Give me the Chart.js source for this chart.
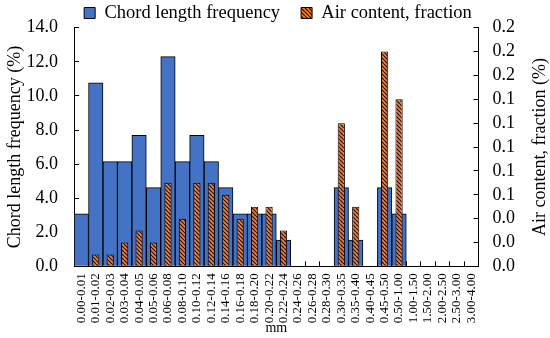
<!DOCTYPE html>
<html>
<head>
<meta charset="utf-8">
<script src="https://cdn.jsdelivr.net/npm/chart.js@4.4.1/dist/chart.umd.min.js"></script>
<style>
    html, body { margin: 0; padding: 0; background: #fff; }
    #wrap { width: 550px; height: 338px; position: relative; }
</style>
</head>
<body>
<div id="wrap"><canvas id="chart"></canvas></div>
<script>
// Chord length bins (mm)
const categories = [
    '0.00-0.01', '0.01-0.02', '0.02-0.03', '0.03-0.04', '0.04-0.05', '0.05-0.06',
    '0.06-0.08', '0.08-0.10', '0.10-0.12', '0.12-0.14', '0.14-0.16', '0.16-0.18',
    '0.18-0.20', '0.20-0.22', '0.22-0.24', '0.24-0.26', '0.26-0.28', '0.28-0.30',
    '0.30-0.35', '0.35-0.40', '0.40-0.45', '0.45-0.50', '0.50-1.00', '1.00-1.50',
    '1.50-2.00', '2.00-2.50', '2.50-3.00', '3.00-4.00'
];

// Chord length frequency (%) - left axis
const chordFreq = [
    3.08, 10.77, 6.15, 6.15, 7.69, 4.62, 12.31, 6.15, 7.69, 6.15, 4.62, 3.08,
    3.08, 3.08, 1.54, 0, 0, 0, 4.62, 1.54, 0, 4.62, 3.08, 0, 0, 0, 0, 0
];

// Air content, fraction - right axis
const airContent = [
    0, 0.01, 0.01, 0.02, 0.03, 0.02, 0.07, 0.04, 0.07, 0.07, 0.06, 0.04,
    0.05, 0.05, 0.03, 0, 0, 0, 0.12, 0.05, 0, 0.18, 0.14, 0, 0, 0, 0, 0
];

// Tick labels as printed on the axes
const leftTickLabels = ['0.0', '2.0', '4.0', '6.0', '8.0', '10.0', '12.0', '14.0'];
const rightTickLabels = ['0.0', '0.0', '0.0', '0.1', '0.1', '0.1', '0.1', '0.1', '0.2', '0.2', '0.2'];

const FONT = '"Liberation Serif", "Times New Roman", serif';

// Orange bars with dark diagonal hatch
function makeHatch() {
    const size = 4;
    const c = document.createElement('canvas');
    c.width = size;
    c.height = size;
    const g = c.getContext('2d');
    g.fillStyle = '#ED7D31';
    g.fillRect(0, 0, size, size);
    g.strokeStyle = '#2b1203';
    g.lineWidth = 1.2;
    g.beginPath();
    for (let k = -size; k <= size; k += size) {
        g.moveTo(k, 0);
        g.lineTo(k + size, size);
    }
    g.stroke();
    return g.createPattern(c, 'repeat');
}

// Legend: keep wide gap between items but a short box,
// and draw it a bit higher/right without clipping
const legendFit = {
    id: 'legendFit',
    beforeInit(chart) {
        const legend = chart.legend;
        const fit = legend.fit;
        const draw = legend.draw;
        legend.fit = function () {
            fit.call(this);
            this.height = 25;
        };
        legend.draw = function () {
            if (!this.options.display) return;
            const ctx = this.ctx;
            ctx.save();
            ctx.translate(9, -20);
            if (this._draw) this._draw();
            else draw.call(this);
            ctx.restore();
        };
    }
};

// Right axis title reads bottom-to-top like the left one
const rightTitle = {
    id: 'rightTitle',
    afterDraw(chart) {
        const area = chart.chartArea;
        const ctx = chart.ctx;
        ctx.save();
        ctx.font = '18px ' + FONT;
        ctx.fillStyle = '#000';
        ctx.textAlign = 'center';
        ctx.textBaseline = 'middle';
        ctx.translate(chart.width - 10, (area.top + area.bottom) / 2);
        ctx.rotate(-Math.PI / 2);
        ctx.fillText('Air content, fraction (%)', 0, 0);
        ctx.restore();
    }
};

const axisGrid = {
    display: true,
    drawOnChartArea: false,
    drawTicks: true,
    tickLength: -5,
    color: '#000',
    lineWidth: 1
};

new Chart(document.getElementById('chart'), {
    type: 'bar',
    data: {
        labels: categories,
        datasets: [{
            label: 'Chord length frequency',
            data: chordFreq,
            yAxisID: 'y',
            backgroundColor: '#4472C4',
            borderColor: '#000',
            borderWidth: 1,
            barPercentage: 1,
            categoryPercentage: 1,
            grouped: false,
            order: 2
        }, {
            label: 'Air content, fraction',
            data: airContent,
            yAxisID: 'y1',
            backgroundColor: makeHatch(),
            borderColor: '#000',
            borderWidth: 1,
            barPercentage: 0.5,
            categoryPercentage: 1,
            grouped: false,
            order: 1
        }]
    },
    options: {
        responsive: true,
        maintainAspectRatio: false,
        animation: false,
        layout: { padding: { top: 0, right: 16, bottom: 1, left: 4 } },
        scales: {
            x: {
                grid: axisGrid,
                border: { display: true, color: '#000', width: 1 },
                ticks: {
                    color: '#000',
                    font: { family: FONT, size: 13 },
                    minRotation: 90,
                    maxRotation: 90,
                    autoSkip: false,
                    padding: 12
                },
                title: {
                    display: true,
                    text: 'mm',
                    color: '#000',
                    font: { family: FONT, size: 14 },
                    padding: { top: -15, bottom: 0 }
                }
            },
            y: {
                position: 'left',
                min: 0,
                max: 14,
                grid: axisGrid,
                border: { display: true, color: '#000', width: 1 },
                ticks: {
                    stepSize: 2,
                    color: '#000',
                    font: { family: FONT, size: 18, lineHeight: 0.75 },
                    padding: 21,
                    autoSkip: false,
                    callback: (v, i) => leftTickLabels[i]
                },
                title: {
                    display: true,
                    text: 'Chord length frequency (%)',
                    color: '#000',
                    font: { family: FONT, size: 18 },
                    padding: { top: 0, bottom: -20 }
                }
            },
            y1: {
                position: 'right',
                min: 0,
                max: 0.2,
                grid: axisGrid,
                border: { display: true, color: '#000', width: 1 },
                ticks: {
                    stepSize: 0.02,
                    color: '#000',
                    font: { family: FONT, size: 18, lineHeight: 0.75 },
                    padding: 19,
                    autoSkip: false,
                    callback: (v, i) => rightTickLabels[i]
                }
            }
        },
        plugins: {
            legend: {
                position: 'top',
                labels: {
                    color: '#000',
                    font: { family: FONT, size: 18.5 },
                    boxWidth: 11,
                    boxHeight: 11,
                    padding: 21,
                    sort: (a, b) => a.datasetIndex - b.datasetIndex
                }
            },
            tooltip: { enabled: false }
        }
    },
    plugins: [legendFit, rightTitle]
});
</script>
</body>
</html>
